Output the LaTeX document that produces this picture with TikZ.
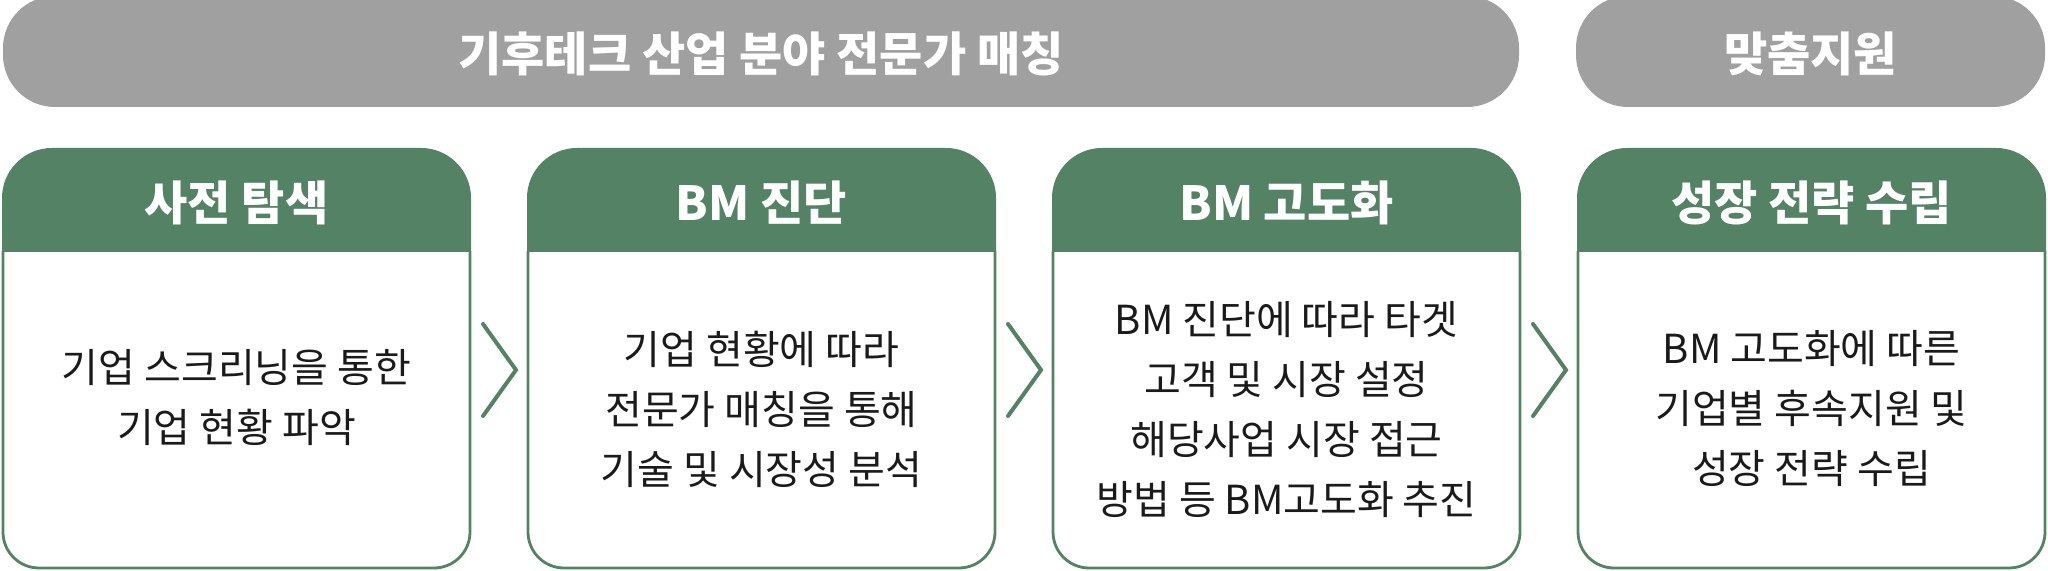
\documentclass[tikz,border=0pt]{standalone}
\usepackage{fontspec}
\setmainfont{Noto Sans CJK KR}
\usetikzlibrary{calc}
\definecolor{grn}{HTML}{538264}
\definecolor{gry}{HTML}{A0A0A0}
\definecolor{txt}{HTML}{1A1A1A}
\newcommand\mycard[2]{%
  \begin{scope}
    \clip (#1-5,319) rectangle (#2+5,430);
    \fill[grn, rounded corners=25pt] (#1-1,200) rectangle (#2+1,423);
  \end{scope}
  \begin{scope}
    \clip (#1-5,-5) rectangle (#2+5,319.5);
    \draw[grn, line width=1.4pt, rounded corners=18pt] (#1,3) rectangle (#2,400);
  \end{scope}}
\begin{document}
\begin{tikzpicture}[x=0.5pt,y=0.5pt,
  pilltxt/.style={text=white,inner sep=0pt,font=\fontsize{23.5}{28}\selectfont\bfseries},
  hdrtxt/.style={text=white,inner sep=0pt,font=\fontsize{23.5}{28}\selectfont\bfseries},
  bodytxt/.style={text=txt,inner sep=0pt,align=center,font=\fontsize{20}{30}\selectfont},
  chev/.style={draw=grn,line width=2pt,line cap=round,line join=miter}
]
\useasboundingbox (0,0) rectangle (2048,571);
% top pills
\fill[gry, rounded corners=26pt] (3,464) rectangle (1519,575);
\fill[gry, rounded corners=26pt] (1576,464) rectangle (2045,575);
\fill[gry] (30,571) rectangle (1490,575);
\fill[gry] (1600,571) rectangle (2020,575);
\node[pilltxt] (t1) at (761,517.5) {기후테크 산업 분야 전문가 매칭};
\node[pilltxt] (t2) at (1810.5,517.5) {맞춤지원};
% cards
\mycard{3}{470}
\mycard{528}{995}
\mycard{1053}{1520}
\mycard{1578}{2045}
\node[hdrtxt] (h1) at (236.5,368) {사전 탐색};
\node[hdrtxt] (h2) at (761.5,368) {BM 진단};
\node[hdrtxt] (h3) at (1286.5,368) {BM 고도화};
\node[hdrtxt] (h4) at (1811.5,368) {성장 전략 수립};
\node[bodytxt] (b1) at (236.5,173) {기업 스크리닝을 통한\\기업 현황 파악};
\node[bodytxt] (b2) at (761.5,162) {기업 현황에 따라\\전문가 매칭을 통해\\기술 및 시장성 분석};
\node[bodytxt] (b3) at (1286.5,161) {BM 진단에 따라 타겟\\고객 및 시장 설정\\해당사업 시장 접근\\방법 등 BM고도화 추진};
\node[bodytxt] (b4) at (1811.5,162) {BM 고도화에 따른\\기업별 후속지원 및\\성장 전략 수립};
% card edges for chevrons
\coordinate (e1r) at (470,201);
\coordinate (e2l) at (528,201);
\coordinate (e2r) at (995,201);
\coordinate (e3l) at (1053,201);
\coordinate (e3r) at (1520,201);
\coordinate (e4l) at (1578,201);
\draw[chev] ($(e1r)!0.5!(e2l)+(-16,46)$) -- ($(e1r)!0.5!(e2l)+(17,0)$) -- ($(e1r)!0.5!(e2l)+(-16,-46)$);
\draw[chev] ($(e2r)!0.5!(e3l)+(-16,46)$) -- ($(e2r)!0.5!(e3l)+(17,0)$) -- ($(e2r)!0.5!(e3l)+(-16,-46)$);
\draw[chev] ($(e3r)!0.5!(e4l)+(-16,46)$) -- ($(e3r)!0.5!(e4l)+(17,0)$) -- ($(e3r)!0.5!(e4l)+(-16,-46)$);
\end{tikzpicture}
\end{document}
